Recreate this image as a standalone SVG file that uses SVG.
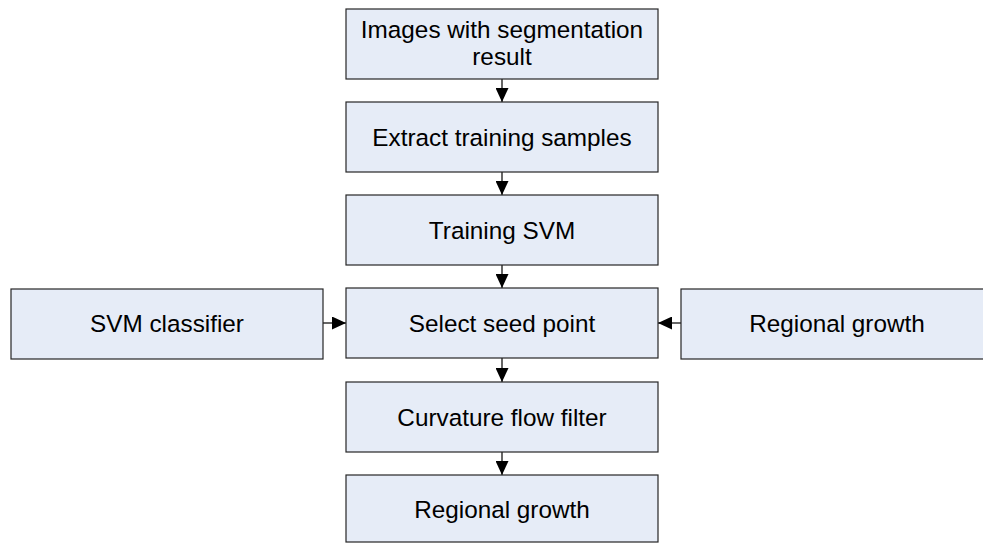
<svg xmlns="http://www.w3.org/2000/svg" width="983" height="544" viewBox="0 0 983 544">
  <style>
    .box { fill: #e6ecf7; stroke: #262626; stroke-width: 1.2; }
    .label { font-family: "Liberation Sans", Arial, sans-serif; font-size: 24.3px; fill: #000; text-anchor: middle; }
    .edge { stroke: #000; stroke-width: 1.2; fill: none; marker-end: url(#head); }
  </style>
  <defs>
    <marker id="head" viewBox="0 0 14 13" refX="14" refY="6.5" markerWidth="14" markerHeight="13" markerUnits="userSpaceOnUse" orient="auto">
      <path d="M0,0 L14,6.5 L0,13 Z" fill="#000"/>
    </marker>
  </defs>
  <rect width="983" height="544" fill="#fff"/>

  <g id="connectors">
    <line class="edge" x1="502" y1="79" x2="502" y2="102"/>
    <line class="edge" x1="502" y1="172" x2="502" y2="195"/>
    <line class="edge" x1="502" y1="265" x2="502" y2="288"/>
    <line class="edge" x1="502" y1="358" x2="502" y2="382"/>
    <line class="edge" x1="502" y1="452" x2="502" y2="475"/>
    <line class="edge" x1="323" y1="323" x2="346" y2="323"/>
    <line class="edge" x1="681" y1="323" x2="658" y2="323"/>
  </g>

  <g id="images-with-segmentation">
    <rect class="box" x="346" y="9" width="312" height="70"/>
    <text class="label" x="502" y="38">Images with segmentation</text>
    <text class="label" x="502" y="65">result</text>
  </g>
  <g id="extract-training-samples">
    <rect class="box" x="346" y="102" width="312" height="70"/>
    <text class="label" x="502" y="145.5">Extract training samples</text>
  </g>
  <g id="training-svm">
    <rect class="box" x="346" y="195" width="312" height="70"/>
    <text class="label" x="502" y="238.5">Training SVM</text>
  </g>
  <g id="select-seed-point">
    <rect class="box" x="346" y="288" width="312" height="70"/>
    <text class="label" x="502" y="331.5">Select seed point</text>
  </g>
  <g id="svm-classifier">
    <rect class="box" x="11" y="289" width="312" height="70"/>
    <text class="label" x="167" y="332">SVM classifier</text>
  </g>
  <g id="regional-growth-side">
    <rect class="box" x="681" y="289" width="312" height="70"/>
    <text class="label" x="837" y="332">Regional growth</text>
  </g>
  <g id="curvature-flow-filter">
    <rect class="box" x="346" y="382" width="312" height="70"/>
    <text class="label" x="502" y="425.5">Curvature flow filter</text>
  </g>
  <g id="regional-growth">
    <rect class="box" x="346" y="475" width="312" height="67"/>
    <text class="label" x="502" y="518">Regional growth</text>
  </g>
</svg>
